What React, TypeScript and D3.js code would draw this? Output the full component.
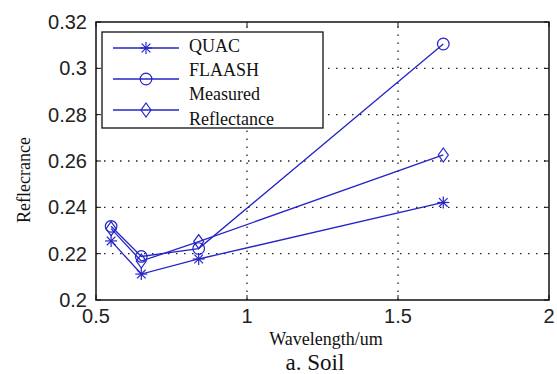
import * as d3 from "d3"

const wavelengths = [0.55, 0.65, 0.84, 1.65]
const quac = [0.2255, 0.2112, 0.2177, 0.2421]
const flaash = [0.2318, 0.2188, 0.2222, 0.3105]
const measured = [0.2308, 0.2168, 0.2252, 0.2626]
const xTicks = [0.5, 1, 1.5, 2]
const yTicks = [0.2, 0.22, 0.24, 0.26, 0.28, 0.3, 0.32]
const legendLabels = ["QUAC", "FLAASH", "Measured", "Reflectance"]

const blue = "#2424c8"

function Marker({ kind, x, y }: { kind: string; x: number; y: number }) {
  if (kind === "star") {
    const r = 6
    const d = r * 0.72
    return (
      <g stroke={blue} strokeWidth={1.2}>
        <line x1={x - r} y1={y} x2={x + r} y2={y} />
        <line x1={x} y1={y - r} x2={x} y2={y + r} />
        <line x1={x - d} y1={y - d} x2={x + d} y2={y + d} />
        <line x1={x - d} y1={y + d} x2={x + d} y2={y - d} />
      </g>
    )
  }
  if (kind === "circle") {
    return <circle cx={x} cy={y} r={5.8} fill="none" stroke={blue} strokeWidth={1.2} />
  }
  return (
    <path
      d={`M${x},${y - 7}L${x + 5},${y}L${x},${y + 7}L${x - 5},${y}Z`}
      fill="none"
      stroke={blue}
      strokeWidth={1.2}
    />
  )
}

export default function App() {
  const width = 557
  const height = 374
  const margin = { left: 96, top: 22, right: 8, bottom: 74 }
  const x = d3.scaleLinear().domain([0.5, 2]).range([margin.left, width - margin.right])
  const y = d3.scaleLinear().domain([0.2, 0.32]).range([height - margin.bottom, margin.top])
  const [x0, x1] = x.range()
  const [y0, y1] = y.range()

  const series = [
    { values: quac, marker: "star" },
    { values: flaash, marker: "circle" },
    { values: measured, marker: "diamond" },
  ]

  const line = d3
    .line<number>()
    .x((_, i) => x(wavelengths[i]))
    .y((d) => y(d))

  const fmt = (v: number) => d3.format("~g")(v)

  return (
    <svg
      width={width}
      height={height}
      style={{ position: "absolute", left: 0, top: 0, background: "#fff" }}
    >
      {/* grid */}
      <g stroke="#222" strokeWidth={1.3} strokeDasharray="1.5 6.5">
        {xTicks.slice(1, -1).map((t) => (
          <line key={`gx${t}`} x1={x(t)} x2={x(t)} y1={y0} y2={y1} />
        ))}
        {yTicks.slice(1, -1).map((t) => (
          <line key={`gy${t}`} x1={x0} x2={x1} y1={y(t)} y2={y(t)} />
        ))}
      </g>

      {/* ticks */}
      <g stroke="#111" strokeWidth={1}>
        {xTicks.map((t) => (
          <g key={`tx${t}`}>
            <line x1={x(t)} x2={x(t)} y1={y0} y2={y0 - 5} />
            <line x1={x(t)} x2={x(t)} y1={y1} y2={y1 + 5} />
          </g>
        ))}
        {yTicks.map((t) => (
          <g key={`ty${t}`}>
            <line x1={x0} x2={x0 + 5} y1={y(t)} y2={y(t)} />
            <line x1={x1} x2={x1 - 5} y1={y(t)} y2={y(t)} />
          </g>
        ))}
      </g>

      {/* series */}
      {series.map((s, si) => (
        <g key={si}>
          <path d={line(s.values) ?? ""} fill="none" stroke={blue} strokeWidth={1.3} />
          {s.values.map((v, i) => (
            <Marker key={i} kind={s.marker} x={x(wavelengths[i])} y={y(v)} />
          ))}
        </g>
      ))}

      {/* axes box */}
      <rect x={x0} y={y1} width={x1 - x0} height={y0 - y1} fill="none" stroke="#111" strokeWidth={1.5} />

      {/* tick labels */}
      <g fontFamily="Liberation Sans, Arial, sans-serif" fontSize={20} fill="#222">
        {xTicks.map((t) => (
          <text key={`lx${t}`} x={x(t)} y={y0 + 23} textAnchor="middle">
            {fmt(t)}
          </text>
        ))}
        {yTicks.map((t) => (
          <text key={`ly${t}`} x={x0 - 9} y={y(t) + 7} textAnchor="end">
            {fmt(t)}
          </text>
        ))}
      </g>

      {/* axis labels */}
      <g fontFamily="Liberation Serif, Times New Roman, serif" fill="#111">
        <text x={326} y={345} fontSize={18} textAnchor="middle">
          Wavelength/um
        </text>
        <text x={315} y={370} fontSize={23} textAnchor="middle">
          a. Soil
        </text>
        <text transform="translate(30,180) rotate(-90)" fontSize={18} textAnchor="middle">
          Reflecrance
        </text>
      </g>

      {/* legend */}
      <g>
        <rect x={102} y={32} width={221} height={96} fill="#fff" stroke="#111" strokeWidth={1.3} />
        {series.map((s, i) => {
          const ly = 48 + i * 31
          return (
            <g key={`lg${i}`}>
              <line x1={113} x2={179} y1={ly} y2={ly} stroke={blue} strokeWidth={1.3} />
              <Marker kind={s.marker} x={146} y={ly} />
            </g>
          )
        })}
        <g fontFamily="Liberation Serif, Times New Roman, serif" fontSize={18} fill="#111">
          {legendLabels.map((l, i) => (
            <text key={l} x={189} y={52 + i * 24.2}>
              {l}
            </text>
          ))}
        </g>
      </g>
    </svg>
  )
}
